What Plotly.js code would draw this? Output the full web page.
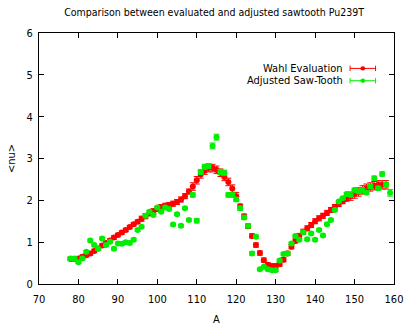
<!DOCTYPE html>
<html>
<head>
<meta charset="utf-8">
<script src="https://cdn.plot.ly/plotly-3.0.1.min.js"></script>
<style>html,body{margin:0;padding:0;background:#fff;}#chart{width:404px;height:326px;}</style>
</head>
<body>
<div id="chart"></div>
<script>
// Wahl Evaluation (red)
const wahlA = [78,79,80,81,82,83,84,85,86,87,88,89,90,91,92,93,94,95,96,97,98,99,100,101,102,103,104,105,106,107,108,109,110,111,112,113,114,115,116,117,118,119,120,121,122,123,124,125,126,127,128,129,130,131,132,133,134,135,136,137,138,139,140,141,142,143,144,145,146,147,148,149,150,151,152,153,154,155,156,157,158];
const wahlNu = [0.60,0.60,0.61,0.65,0.69,0.73,0.79,0.85,0.92,0.98,1.04,1.11,1.17,1.23,1.29,1.36,1.43,1.49,1.56,1.62,1.69,1.74,1.79,1.84,1.87,1.89,1.92,1.96,2.02,2.10,2.21,2.33,2.48,2.62,2.71,2.77,2.77,2.73,2.66,2.56,2.44,2.28,2.10,1.86,1.62,1.38,1.15,0.93,0.74,0.57,0.46,0.43,0.43,0.47,0.58,0.73,0.89,1.03,1.15,1.25,1.33,1.41,1.50,1.57,1.63,1.70,1.77,1.84,1.91,1.98,2.04,2.10,2.15,2.20,2.25,2.29,2.32,2.35,2.37,2.37,2.37];
const wahlErr = [0.04,0.04,0.04,0.04,0.04,0.04,0.04,0.04,0.04,0.04,0.04,0.04,0.04,0.04,0.04,0.04,0.04,0.04,0.06,0.06,0.06,0.06,0.06,0.06,0.06,0.06,0.06,0.06,0.06,0.06,0.06,0.09,0.09,0.09,0.09,0.09,0.09,0.09,0.09,0.09,0.09,0.09,0.09,0.05,0.05,0.05,0.05,0.05,0.05,0.05,0.05,0.05,0.05,0.05,0.05,0.05,0.05,0.05,0.06,0.06,0.06,0.06,0.06,0.06,0.06,0.06,0.06,0.06,0.06,0.06,0.06,0.10,0.10,0.10,0.10,0.10,0.10,0.10,0.10,0.10,0.10];

// Adjusted Saw-Tooth (green)
const sawA = [78,79,80,81,82,83,84,85,86,87,88,89,90,91,92,93,94,95,96,97,98,99,100,101,102,103,104,105,106,107,108,109,110,111,112,113,114,115,116,117,118,119,120,121,122,123,124,125,126,127,128,129,130,131,132,133,134,135,136,137,138,139,140,141,142,143,144,145,146,147,148,149,150,151,152,153,154,155,156,157,158,159];
const sawNu = [0.61,0.61,0.52,0.61,0.77,1.04,0.93,0.84,1.09,0.93,1.01,0.84,0.97,0.96,1.00,0.98,1.06,1.29,1.37,1.63,1.73,1.65,1.83,1.73,1.83,1.79,1.42,1.67,1.39,1.81,1.53,2.13,1.51,2.68,2.80,2.82,3.30,3.51,2.68,2.66,2.13,2.13,2.02,1.81,1.59,1.39,0.73,1.13,0.35,0.41,0.35,0.33,0.33,0.56,0.72,0.73,0.97,1.15,1.06,1.24,1.07,1.21,1.06,1.29,1.16,1.43,1.53,1.77,1.97,2.05,2.15,2.13,2.25,2.21,2.25,2.18,2.33,2.53,2.29,2.63,2.37,2.18];
const sawErr = [0.03,0.03,0.03,0.03,0.03,0.03,0.03,0.03,0.03,0.03,0.03,0.03,0.03,0.03,0.03,0.03,0.03,0.03,0.03,0.03,0.03,0.03,0.03,0.03,0.03,0.03,0.03,0.03,0.03,0.03,0.03,0.05,0.05,0.06,0.06,0.06,0.07,0.07,0.06,0.06,0.05,0.05,0.05,0.05,0.05,0.05,0.04,0.04,0.03,0.03,0.03,0.03,0.03,0.03,0.03,0.03,0.03,0.03,0.03,0.03,0.03,0.03,0.03,0.03,0.03,0.03,0.03,0.03,0.03,0.03,0.04,0.04,0.04,0.04,0.04,0.04,0.04,0.05,0.05,0.05,0.05,0.08];

const xTicks = [70,80,90,100,110,120,130,140,150,160];
const yTicks = [0,1,2,3,4,5,6];

const RED = '#ff0000';
const GREEN = '#00ee00';
const FONT = 'DejaVu Sans Condensed, DejaVu Sans, sans-serif';

const traces = [
  {
    x: wahlA, y: wahlNu, type: 'scatter', mode: 'markers', name: 'Wahl Evaluation',
    marker: {color: RED, size: 6, symbol: 'circle'},
    error_y: {type: 'data', array: wahlErr, visible: true, color: RED, thickness: 1, width: 3}
  },
  {
    x: sawA, y: sawNu, type: 'scatter', mode: 'markers', name: 'Adjusted Saw-Tooth',
    marker: {color: GREEN, size: 6, symbol: 'circle'},
    error_y: {type: 'data', array: sawErr, visible: true, color: GREEN, thickness: 1, width: 3}
  }
];

// manual gnuplot-style key (text left of sample)
function keySample(yPx, color) {
  const x0 = 354, x1 = 383, xm = 368.5, h = 3.5;
  const W = 404, H = 326;
  const px = v => v / W, py = v => 1 - v / H;
  return [
    {type:'line', xref:'paper', yref:'paper', x0:px(x0), x1:px(x1), y0:py(yPx), y1:py(yPx), line:{color:color, width:1}},
    {type:'line', xref:'paper', yref:'paper', x0:px(x0), x1:px(x0), y0:py(yPx-h), y1:py(yPx+h), line:{color:color, width:1}},
    {type:'line', xref:'paper', yref:'paper', x0:px(x1), x1:px(x1), y0:py(yPx-h), y1:py(yPx+h), line:{color:color, width:1}},
    {type:'circle', xref:'paper', yref:'paper', x0:px(xm-2.8), x1:px(xm+2.8), y0:py(yPx+2.8), y1:py(yPx-2.8), fillcolor:color, line:{color:color, width:0}}
  ];
}

const layout = {
  width: 404, height: 326,
  margin: {l: 39, r: 10, t: 33, b: 42, pad: 0},
  paper_bgcolor: '#ffffff', plot_bgcolor: '#ffffff',
  showlegend: false,
  font: {family: FONT, size: 11, color: '#000'},
  title: {text: 'Comparison between evaluated and adjusted sawtooth Pu239T', font: {family: FONT, size: 10.5, color: '#000'}, x: 0.53, xanchor: 'center', y: 0.962, yanchor: 'middle'},
  xaxis: {
    range: [70, 160], tickvals: xTicks, ticktext: xTicks.map(String),
    ticks: 'inside', ticklen: 5, tickcolor: '#000', tickwidth: 1,
    showline: true, linecolor: '#000', linewidth: 1, mirror: 'ticks',
    showgrid: false, zeroline: false, ticklabelstandoff: 5,
    tickfont: {family: FONT, size: 11, color: '#000'},
    title: {text: 'A', font: {family: FONT, size: 11, color: '#000'}, standoff: 13}
  },
  yaxis: {
    range: [0, 6], tickvals: yTicks, ticktext: yTicks.map(String),
    ticks: 'inside', ticklen: 5, tickcolor: '#000', tickwidth: 1,
    showline: true, linecolor: '#000', linewidth: 1, mirror: 'ticks',
    showgrid: false, zeroline: false, ticklabelstandoff: 3,
    tickfont: {family: FONT, size: 11, color: '#000'},
    title: {text: '&lt;nu&gt;', font: {family: FONT, size: 11, color: '#000'}, standoff: 8}
  },
  annotations: [
    {text: 'Wahl Evaluation', xref: 'paper', yref: 'paper', x: 348/404, y: 1 - 46/326, xanchor: 'right', yanchor: 'middle', showarrow: false, font: {family: FONT, size: 11, color: '#000'}},
    {text: 'Adjusted Saw-Tooth', xref: 'paper', yref: 'paper', x: 348/404, y: 1 - 62/326, xanchor: 'right', yanchor: 'middle', showarrow: false, font: {family: FONT, size: 11, color: '#000'}}
  ],
  shapes: [].concat(keySample(46, RED), keySample(62, GREEN))
};

Plotly.newPlot('chart', traces, layout, {staticPlot: true, displayModeBar: false});
</script>
</body>
</html>
